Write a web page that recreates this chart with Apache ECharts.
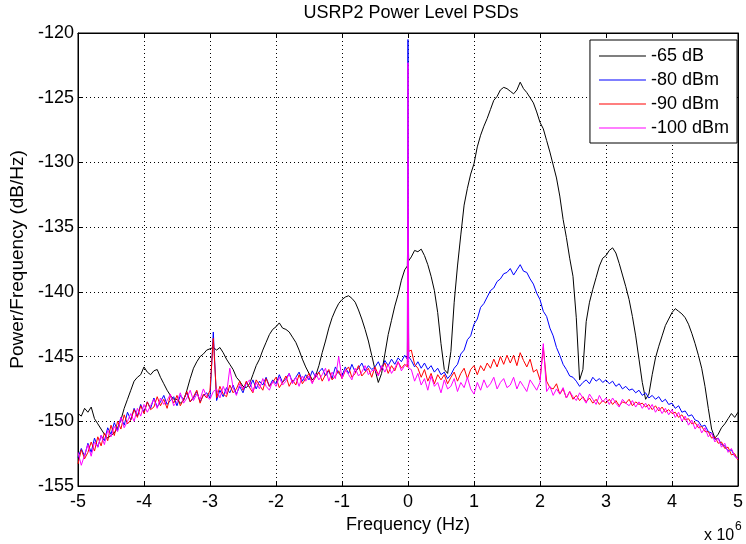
<!DOCTYPE html>
<html>
<head>
<meta charset="utf-8">
<script src="https://cdn.jsdelivr.net/npm/echarts@6/dist/echarts.min.js"></script>
<style>
html,body{margin:0;padding:0;background:#fff;}
#chart{width:746px;height:544px;}
</style>
</head>
<body>
<div id="chart"></div>
<script>
// Frequency sample grid (MHz, shown with "x 10^6"): -5..5 step 0.05, with two extra samples at +/-0.01 around the DC spike
const freqMHz = [];
for (let i = 0; i <= 200; i++) {
  const f = Math.round((-5 + i * 0.05) * 100) / 100;
  if (i === 100) { freqMHz.push(-0.01, 0, 0.01); } else { freqMHz.push(f); }
}

const xTicks = [-5, -4, -3, -2, -1, 0, 1, 2, 3, 4, 5];
const yTicks = [-155, -150, -145, -140, -135, -130, -125, -120];
const seriesNames = ['-65 dB', '-80 dBm', '-90 dBm', '-100 dBm'];

// PSD values (dB/Hz), rows of 10 samples = 0.5 MHz each; middle row of 3 = -0.01, 0, 0.01
const psd65 = [
  -149.4,-149.6,-149.0,-149.3,-148.9,-149.8,-150.2,-150.6,-151.0,-151.3,
  -151.1,-150.9,-150.5,-149.9,-149.0,-148.3,-147.6,-146.9,-146.6,-146.4,
  -145.8,-146.2,-146.4,-146.1,-146.0,-146.6,-147.1,-147.6,-148.0,-148.3,
  -148.3,-148.6,-148.4,-147.6,-146.7,-145.9,-145.4,-145.0,-144.8,-144.5,
  -144.4,-144.3,-144.5,-144.3,-144.7,-145.2,-145.6,-146.0,-146.6,-146.9,
  -147.3,-147.4,-147.1,-146.4,-145.7,-145.2,-144.5,-143.9,-143.3,-142.9,
  -142.7,-142.4,-142.8,-142.9,-143.1,-143.5,-143.9,-144.5,-145.2,-145.8,
  -146.3,-146.8,-146.5,-145.7,-144.7,-143.8,-142.8,-142.0,-141.4,-140.9,
  -140.6,-140.4,-140.3,-140.5,-140.8,-141.4,-142.1,-142.9,-143.8,-144.9,
  -146.0,-147.0,-146.3,-144.8,-143.3,-142.2,-141.1,-140.2,-139.1,-138.3,
  -138.0,-134.5,-137.6,
  -137.3,-136.8,-136.9,-136.7,-137.2,-137.9,-138.8,-139.9,-141.6,-144.0,
  -146.0,-146.3,-144.6,-140.8,-138.0,-135.6,-133.3,-132.0,-130.9,-130.1,
  -128.8,-127.9,-127.2,-126.6,-125.9,-125.2,-124.9,-124.4,-124.2,-124.3,
  -124.5,-124.7,-124.4,-123.8,-124.3,-124.6,-125.0,-125.4,-126.1,-126.9,
  -127.4,-128.3,-129.2,-130.2,-131.2,-132.6,-134.4,-135.8,-137.4,-138.8,
  -142.0,-146.8,-146.0,-142.3,-140.8,-139.8,-138.9,-138.0,-137.4,-137.2,
  -136.8,-136.6,-137.0,-137.8,-138.7,-139.6,-140.6,-141.9,-143.4,-145.2,
  -147.0,-148.3,-147.9,-146.4,-145.1,-144.2,-143.4,-142.6,-142.1,-141.6,
  -141.3,-141.5,-141.7,-142.0,-142.5,-143.2,-144.0,-144.9,-145.9,-147.3,
  -149.0,-150.6,-151.3,-151.0,-150.5,-150.2,-149.8,-149.4,-149.7,-149.3
];

const psd80 = [
  -152.8,-152.1,-152.7,-151.7,-152.4,-151.3,-152.0,-151.1,-151.5,-150.5,
  -151.0,-150.1,-150.7,-149.7,-150.3,-149.3,-149.9,-149.0,-149.6,-148.7,
  -149.3,-148.5,-149.0,-148.2,-148.9,-148.5,-148.0,-148.7,-148.4,-148.1,
  -148.8,-148.0,-148.3,-147.8,-148.5,-148.2,-147.7,-148.5,-148.0,-147.8,
  -148.2,-143.1,-148.4,-147.6,-148.1,-147.4,-147.8,-147.2,-147.9,-147.3,
  -147.8,-147.0,-147.4,-146.8,-147.5,-146.9,-147.2,-146.6,-147.3,-146.8,
  -147.1,-146.4,-147.0,-146.7,-146.3,-147.0,-146.6,-146.2,-146.9,-146.4,
  -146.8,-146.1,-146.6,-146.2,-145.9,-146.5,-146.1,-146.7,-145.8,-146.3,
  -146.5,-145.8,-146.3,-145.6,-146.2,-145.9,-145.5,-146.1,-145.7,-146.0,
  -145.8,-145.4,-146.0,-145.3,-145.7,-145.2,-145.6,-145.1,-145.4,-144.9,
  -145.2,-120.5,-145.0,
  -145.3,-145.8,-145.4,-145.9,-145.5,-146.0,-145.7,-146.2,-145.9,-146.4,
  -146.2,-146.7,-146.4,-145.9,-145.6,-144.8,-144.5,-143.7,-143.4,-142.5,
  -142.1,-141.2,-140.9,-140.4,-139.9,-139.7,-139.2,-139.0,-138.6,-138.5,
  -138.2,-138.7,-138.3,-137.9,-138.4,-138.5,-139.0,-139.4,-140.1,-140.6,
  -141.5,-141.9,-142.8,-143.4,-144.3,-144.9,-145.6,-146.0,-146.5,-146.6,
  -146.9,-147.3,-147.0,-146.8,-147.1,-146.6,-146.9,-146.7,-147.0,-146.8,
  -147.1,-146.9,-147.3,-147.1,-147.5,-147.3,-147.6,-147.5,-147.8,-147.6,
  -148.0,-147.8,-148.2,-148.0,-148.3,-148.1,-148.5,-148.3,-148.7,-148.6,
  -149.0,-148.8,-149.3,-149.2,-149.6,-149.5,-149.9,-150.0,-150.4,-150.3,
  -150.8,-150.9,-151.4,-151.3,-151.8,-151.9,-152.3,-152.2,-152.7,-152.9
];

const psd90 = [
  -153.3,-152.2,-152.9,-152.4,-151.6,-152.3,-151.2,-151.9,-150.9,-151.5,
  -150.3,-151.1,-150.0,-150.6,-149.5,-150.2,-149.9,-149.1,-149.7,-148.8,
  -149.4,-148.5,-149.1,-148.9,-148.1,-148.8,-148.3,-149.0,-148.0,-148.6,
  -148.0,-148.8,-148.3,-147.7,-148.5,-148.1,-147.6,-148.6,-147.9,-148.2,
  -147.6,-143.6,-148.2,-147.3,-147.9,-148.1,-147.2,-147.8,-147.5,-146.9,
  -147.6,-146.9,-147.4,-147.8,-146.8,-147.2,-147.6,-146.7,-147.3,-147.0,
  -146.6,-147.4,-147.0,-146.5,-147.3,-146.8,-147.2,-146.4,-147.1,-146.7,
  -146.3,-147.0,-146.6,-146.2,-146.9,-146.4,-146.0,-146.8,-146.5,-146.1,
  -146.7,-146.1,-145.8,-146.6,-146.3,-145.7,-146.5,-146.2,-145.9,-146.6,
  -145.8,-146.4,-145.9,-145.5,-146.3,-145.7,-146.1,-145.4,-145.9,-145.6,
  -145.8,-138.0,-144.6,
  -144.5,-145.6,-145.9,-146.6,-146.0,-146.9,-146.3,-147.1,-146.4,-146.8,
  -146.4,-147.1,-146.6,-146.2,-146.9,-146.3,-145.9,-146.7,-146.0,-145.7,
  -146.4,-145.7,-146.1,-145.5,-145.9,-145.2,-145.8,-145.0,-145.6,-144.9,
  -145.5,-144.9,-145.7,-144.7,-145.3,-145.8,-145.2,-146.2,-146.0,-146.8,
  -144.3,-146.9,-147.4,-147.5,-147.1,-147.9,-147.5,-148.2,-147.7,-148.3,
  -148.0,-148.4,-148.1,-148.5,-148.2,-148.6,-148.3,-148.7,-148.4,-148.6,
  -148.3,-148.7,-148.4,-148.8,-148.5,-148.6,-148.3,-148.8,-148.5,-148.7,
  -148.6,-148.9,-148.7,-149.1,-148.8,-149.2,-148.9,-149.3,-149.1,-149.4,
  -149.3,-149.7,-149.5,-149.9,-149.8,-150.2,-150.1,-150.5,-150.4,-150.8,
  -150.8,-151.3,-151.2,-151.7,-151.6,-152.1,-152.0,-152.6,-152.5,-153.0
];

const psd100 = [
  -152.4,-153.4,-152.6,-151.8,-152.7,-151.6,-152.0,-151.1,-151.8,-150.7,
  -151.2,-150.4,-150.8,-149.7,-150.5,-150.0,-149.4,-150.0,-149.0,-149.6,
  -148.7,-149.3,-148.8,-148.3,-149.0,-148.2,-148.7,-148.4,-147.9,-148.8,
  -148.5,-147.8,-148.6,-148.2,-147.6,-148.4,-147.9,-148.3,-147.5,-148.1,
  -148.3,-147.7,-147.5,-148.2,-147.3,-147.9,-145.9,-147.4,-148.0,-147.1,
  -147.5,-147.1,-146.8,-147.7,-147.0,-147.5,-146.7,-147.3,-147.6,-146.9,
  -147.3,-146.6,-147.2,-146.9,-146.3,-147.1,-146.6,-147.3,-146.5,-146.9,
  -146.5,-147.1,-146.3,-146.8,-146.4,-145.9,-146.9,-146.2,-146.7,-145.0,
  -146.7,-146.0,-146.4,-146.8,-145.9,-146.5,-146.2,-145.7,-146.4,-146.1,
  -146.0,-146.5,-145.7,-146.2,-145.6,-146.3,-145.9,-145.4,-146.1,-145.7,
  -145.6,-122.3,-145.9,
  -146.0,-146.9,-146.3,-147.2,-146.7,-147.6,-146.5,-147.3,-147.0,-147.8,
  -146.8,-147.5,-147.3,-146.7,-147.7,-147.0,-147.4,-146.6,-147.5,-147.9,
  -147.0,-147.6,-146.8,-147.4,-147.1,-146.6,-147.5,-147.0,-146.7,-147.4,
  -147.2,-146.6,-147.5,-146.9,-147.3,-147.7,-146.8,-147.2,-147.6,-147.0,
  -144.0,-147.7,-147.3,-148.0,-147.5,-147.9,-147.4,-148.2,-147.7,-148.1,
  -148.4,-147.8,-148.2,-148.6,-147.9,-148.3,-148.7,-148.0,-148.5,-148.2,
  -148.7,-148.2,-148.6,-148.9,-148.3,-148.6,-148.8,-148.4,-148.9,-148.5,
  -149.0,-148.6,-149.1,-148.7,-149.3,-148.9,-149.4,-149.0,-149.5,-149.1,
  -149.7,-149.3,-150.0,-149.6,-150.3,-149.9,-150.6,-150.2,-150.9,-150.5,
  -151.2,-150.9,-151.6,-151.3,-152.0,-151.7,-152.4,-152.1,-152.7,-152.9
];

const seriesValues = [psd65, psd80, psd90, psd100];
const seriesColors = ['#000000', '#0000ff', '#ff0000', '#ff00ff'];

const FONT = 'Liberation Sans, Arial, Helvetica, sans-serif';
const chart = echarts.init(document.getElementById('chart'), null, {renderer: 'canvas'});

const axisCommon = {
  type: 'value',
  axisLine: {show: true, onZero: false, lineStyle: {color: '#000', width: 1}},
  axisTick: {show: true, inside: true, length: 5, lineStyle: {color: '#000'}},
};

const option = {
  animation: false,
  backgroundColor: '#fff',
  grid: {left: 78, right: 2, top: 33, bottom: 58, show: true, borderColor: '#000', borderWidth: 1, containLabel: false},
  xAxis: [
    Object.assign({}, axisCommon, {
      position: 'bottom', min: xTicks[0], max: xTicks[xTicks.length - 1], interval: 1,
      name: 'Frequency (Hz)', nameLocation: 'middle', nameGap: 29,
      nameTextStyle: {color: '#000', fontFamily: FONT, fontSize: 18},
      axisLabel: {color: '#000', fontFamily: FONT, fontSize: 18, margin: 7, showMinLabel: true, showMaxLabel: true, alignMinLabel: 'center', alignMaxLabel: 'center'},
      splitLine: {show: true, lineStyle: {color: '#000', type: [1, 3], width: 1}}
    }),
    Object.assign({}, axisCommon, {
      position: 'top', min: xTicks[0], max: xTicks[xTicks.length - 1], interval: 1,
      axisLabel: {show: false}, splitLine: {show: false}
    })
  ],
  yAxis: [
    Object.assign({}, axisCommon, {
      position: 'left', min: yTicks[0], max: yTicks[yTicks.length - 1], interval: 5,
      name: 'Power/Frequency (dB/Hz)', nameLocation: 'middle', nameGap: 46,
      nameTextStyle: {color: '#000', fontFamily: FONT, fontSize: 19},
      axisLabel: {color: '#000', fontFamily: FONT, fontSize: 18, margin: 4},
      splitLine: {show: true, lineStyle: {color: '#000', type: [1, 3], width: 1}}
    }),
    Object.assign({}, axisCommon, {
      position: 'right', min: yTicks[0], max: yTicks[yTicks.length - 1], interval: 5,
      axisLabel: {show: false}, splitLine: {show: false}
    })
  ],
  legend: {
    show: true, orient: 'vertical', right: 9, top: 40,
    data: seriesNames,
    icon: 'rect',
    itemWidth: 47, itemHeight: 1, itemGap: 6,
    padding: [7, 8, 6, 9],
    borderColor: '#000', borderWidth: 1, backgroundColor: '#fff',
    textStyle: {color: '#000', fontFamily: FONT, fontSize: 18, lineHeight: 18},
    selectedMode: false
  },
  graphic: [
    {type: 'text', style: {text: 'USRP2 Power Level PSDs', x: 411, y: 13, align: 'center', verticalAlign: 'middle', fill: '#000', font: '18px ' + FONT}},
    {type: 'text', style: {text: 'x 10', x: 704, y: 536, align: 'left', verticalAlign: 'middle', fill: '#000', font: '16px ' + FONT}},
    {type: 'text', style: {text: '6', x: 735, y: 527, align: 'left', verticalAlign: 'middle', fill: '#000', font: '12px ' + FONT}}
  ],
  series: seriesNames.map((name, k) => ({
    name: name,
    type: 'line',
    xAxisIndex: 0, yAxisIndex: 0,
    data: freqMHz.map((f, i) => [f, seriesValues[k][i]]),
    showSymbol: false, symbol: 'none',
    lineStyle: {color: seriesColors[k], width: 1},
    itemStyle: {color: seriesColors[k]},
    emphasis: {disabled: true},
    clip: true,
    z: 2 + k
  }))
};
chart.setOption(option);
</script>
</body>
</html>
